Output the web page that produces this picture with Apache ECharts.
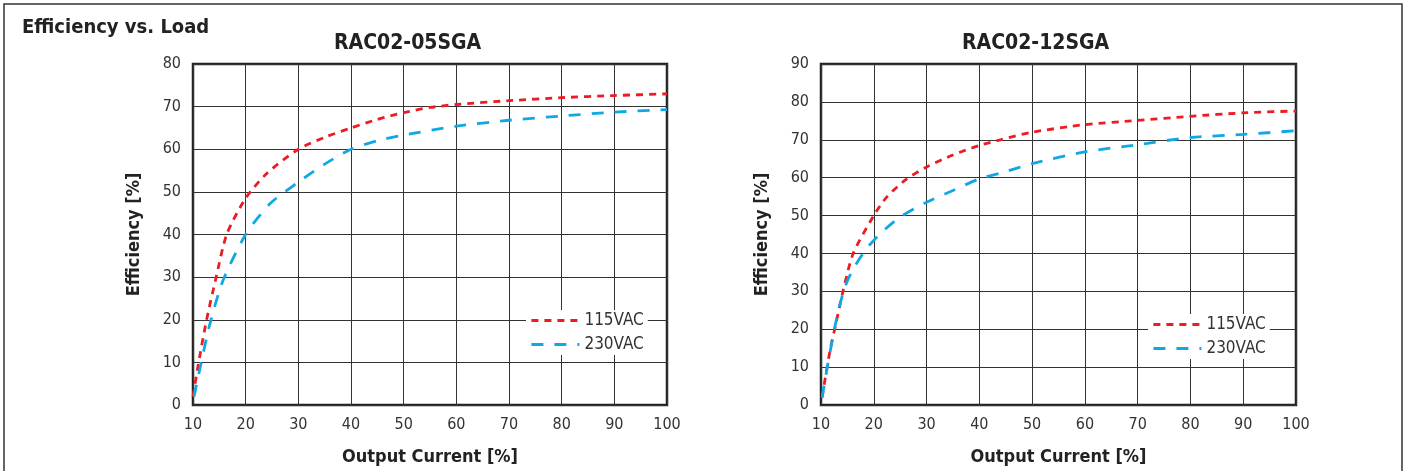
<!DOCTYPE html>
<html>
<head>
<meta charset="utf-8">
<script src="https://cdn.jsdelivr.net/npm/echarts@6/dist/echarts.min.js"></script>
<style>
html,body{margin:0;padding:0;background:#fff;}
#c{width:1410px;height:471px;}
</style>
</head>
<body>
<div id="c"></div>
<script>
const mainTitle = "Efficiency vs. Load";
const chartTitles = ["RAC02-05SGA", "RAC02-12SGA"];
const seriesNames = ["115VAC", "230VAC"];
const xName = "Output Current [%]";
const yName = "Efficiency [%]";

const left115 = [[10,2],[11,9.5],[12.5,19.5],[14.4,30],[16.4,40],[20,48.5],[24,54.3],[30,60],[35,62.8],[40,65],[45,67],[50,68.6],[55,69.8],[60,70.5],[70,71.4],[80,72.1],[90,72.6],[100,73]];
const left230 = [[10.2,2],[11.5,9.6],[13.2,19],[15.7,29.2],[20,40],[24.6,47.2],[30,52.3],[35,56.5],[40,60],[45,62],[50,63.3],[60,65.4],[70,66.8],[80,67.8],[90,68.7],[100,69.3]];
const right115 = [[10.2,2],[11.7,14.3],[12.8,21.3],[14.2,30.2],[16.1,40],[20,50],[22.4,54.8],[26,59.4],[30,62.8],[35,66],[40,68.5],[44,70],[50,72],[60,74],[70,75.1],[80,76.2],[90,77.1],[100,77.6]];
const right230 = [[10.2,2],[11.4,11.6],[13,23.1],[14.5,31],[16.1,35.9],[18.6,41.2],[21.2,45.2],[25,49.6],[30,53.5],[35,56.6],[40,59.7],[44,61.2],[50,63.7],[60,66.8],[70,68.7],[80,70.6],[90,71.4],[100,72.4]];

const leftYMax = 80, rightYMax = 90;

const FONT = '"DejaVu Sans Condensed","Liberation Sans Narrow",sans-serif';
const RED = '#ec1c24', BLUE = '#10a8e4';

const chart = echarts.init(document.getElementById('c'));

function xAxis(gi){
  return {type:'value', gridIndex:gi, min:10, max:100, interval:10,
    name:xName, nameLocation:'middle', nameGap:43,
    nameTextStyle:{fontFamily:FONT, fontSize:18, color:'#222', fontWeight:'bold'},
    axisLine:{show:false}, axisTick:{show:false},
    axisLabel:{fontFamily:FONT, fontSize:16, color:'#333', margin:12},
    splitLine:{show:true, lineStyle:{color:'#333', width:1}}};
}
function yAxis(gi, max){
  return {type:'value', gridIndex:gi, min:0, max:max, interval:10,
    name:yName, nameLocation:'middle', nameGap:50,
    nameTextStyle:{fontFamily:FONT, fontSize:18, color:'#222', fontWeight:'bold'},
    axisLine:{show:false}, axisTick:{show:false},
    axisLabel:{fontFamily:FONT, fontSize:16, color:'#333', margin:12},
    splitLine:{show:true, lineStyle:{color:'#333', width:1}}};
}
function line(name, data, gi, color, dash){
  return {name:name, type:'line', xAxisIndex:gi, yAxisIndex:gi, data:data,
    smooth:0.25, symbol:'none', silent:true,
    lineStyle:{color:color, width:2.8, type:dash}, itemStyle:{color:color}};
}
function legend(left, top){
  return {data:seriesNames.map(n=>({name:n})), orient:'vertical', left:left, top:top,
    itemWidth:48, itemHeight:10, itemGap:7, backgroundColor:'#fff', padding:[2,4,2,4],
    itemStyle:{opacity:0}, lineStyle:{width:2.8},
    textStyle:{fontFamily:FONT, fontSize:17, color:'#333'}, selectedMode:false};
}

chart.setOption({
  animation:false,
  backgroundColor:'#fff',
  title:[
    {text:mainTitle, left:17, top:13, textStyle:{fontFamily:FONT, fontSize:20, fontWeight:'bold', color:'#222'}},
    {text:chartTitles[0], left:329, top:28, textStyle:{fontFamily:FONT, fontSize:21, fontWeight:'bold', color:'#222'}},
    {text:chartTitles[1], left:957, top:28, textStyle:{fontFamily:FONT, fontSize:21, fontWeight:'bold', color:'#222'}}
  ],
  graphic:[{type:'rect', shape:{x:4, y:4, width:1398, height:490}, style:{fill:null, stroke:'#333', lineWidth:1.5}, silent:true}],
  grid:[
    {left:193, top:64, width:474, height:341, show:true, borderColor:'#222', borderWidth:2.5, backgroundColor:'transparent'},
    {left:821, top:64, width:475, height:341, show:true, borderColor:'#222', borderWidth:2.5, backgroundColor:'transparent'}
  ],
  legend:[legend(526, 310), legend(1148, 314)],
  xAxis:[xAxis(0), xAxis(1)],
  yAxis:[yAxis(0, leftYMax), yAxis(1, rightYMax)],
  series:[
    line(seriesNames[0], left115, 0, RED, [7,6]),
    line(seriesNames[1], left230, 0, BLUE, [12,11]),
    line(seriesNames[0], right115, 1, RED, [7,6]),
    line(seriesNames[1], right230, 1, BLUE, [12,11])
  ]
});
</script>
</body>
</html>
